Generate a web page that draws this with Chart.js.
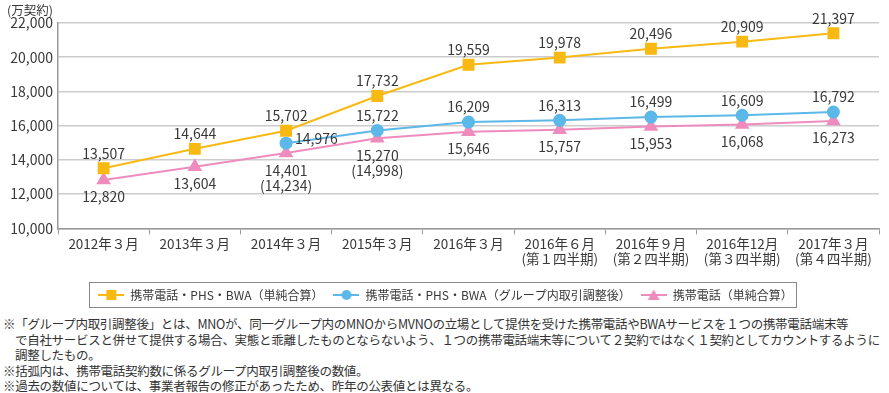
<!DOCTYPE html>
<html lang="ja">
<head>
<meta charset="utf-8">
<script src="https://cdn.jsdelivr.net/npm/chart.js@4.4.1/dist/chart.umd.min.js"></script>
<style>
  body { margin: 0; background: #fff; font-family: "Noto Sans CJK JP", "Noto Sans", sans-serif; color: #333; }
  #wrap { position: relative; width: 889px; height: 312px; }
  #notes { margin: 4px 0 0 3px; font-size: 12.5px; line-height: 15.5px; letter-spacing: -0.3px; }
  #notes p { margin: 0; white-space: nowrap; }
  #notes .indent { padding-left: 12px; }
</style>
</head>
<body>
<div id="wrap"><canvas id="chart"></canvas></div>
<div id="notes">
  <p>※「グループ内取引調整後」とは、MNOが、同一グループ内のMNOからMVNOの立場として提供を受けた携帯電話やBWAサービスを１つの携帯電話端末等</p>
  <p class="indent">で自社サービスと併せて提供する場合、実態と乖離したものとならないよう、１つの携帯電話端末等について２契約ではなく１契約としてカウントするように</p>
  <p class="indent">調整したもの。</p>
  <p>※括弧内は、携帯電話契約数に係るグループ内取引調整後の数値。</p>
  <p>※過去の数値については、事業者報告の修正があったため、昨年の公表値とは異なる。</p>
</div>
<script>
// ---------- Data ----------
const categories = [
  "2012年３月", "2013年３月", "2014年３月", "2015年３月", "2016年３月",
  ["2016年６月", "(第１四半期)"], ["2016年９月", "(第２四半期)"],
  ["2016年12月", "(第３四半期)"], ["2017年３月", "(第４四半期)"],
];
const totalSimple   = [13507, 14644, 15702, 17732, 19559, 19978, 20496, 20909, 21397];
const totalAdjusted = [null, null, 14976, 15722, 16209, 16313, 16499, 16609, 16792];
const mobileSimple  = [12820, 13604, 14401, 15270, 15646, 15757, 15953, 16068, 16273];
// values shown in brackets under the mobile series
const mobileAdjusted = [null, null, 14234, 14998, null, null, null, null, null];

const seriesNames = [
  "携帯電話・PHS・BWA（単純合算）",
  "携帯電話・PHS・BWA（グループ内取引調整後）",
  "携帯電話（単純合算）",
];
const yTicks = { min: 10000, max: 22000, step: 2000 };

const ORANGE = "#F8B913";
const BLUE   = "#5CB8E8";
const PINK   = "#EF8CBE";
const TEXT   = "#383838";
const FONT   = '"Noto Sans CJK JP", "Noto Sans", sans-serif';

const fmt = (v) => Number(v).toLocaleString("en-US");

// ---------- Legend icons: short line with marker ----------
function legendIcon(color, style) {
  const c = document.createElement("canvas");
  c.width = 26; c.height = 12;
  const g = c.getContext("2d");
  g.strokeStyle = color; g.fillStyle = color; g.lineWidth = 2;
  g.beginPath(); g.moveTo(0, 6); g.lineTo(26, 6); g.stroke();
  g.beginPath();
  if (style === "rect") g.rect(8, 1, 10, 10);
  else if (style === "circle") g.arc(13, 6, 5, 0, Math.PI * 2);
  else { g.moveTo(13, 0.5); g.lineTo(19, 11); g.lineTo(7, 11); g.closePath(); }
  g.fill();
  return c;
}

// ---------- Value labels ----------
const valueLabels = {
  id: "valueLabels",
  afterDatasetsDraw(chart) {
    const ctx = chart.ctx;
    ctx.save();
    ctx.font = "14px " + FONT;
    ctx.fillStyle = TEXT;
    ctx.textBaseline = "middle";
    chart.data.datasets.forEach((ds, di) => {
      chart.getDatasetMeta(di).data.forEach((pt, i) => {
        const v = ds.data[i];
        if (v == null) return;
        ctx.textAlign = "center";
        if (di === 0) {
          ctx.fillText(fmt(v), pt.x, pt.y - 15);
        } else if (di === 1) {
          if (i === 2) { ctx.textAlign = "left"; ctx.fillText(fmt(v), pt.x + 9, pt.y - 4); }
          else ctx.fillText(fmt(v), pt.x, pt.y - 15);
        } else {
          const adj = mobileAdjusted[i];
          if (adj != null) {
            ctx.fillText(fmt(v), pt.x, pt.y + 18);
            ctx.fillText("(" + fmt(adj) + ")", pt.x, pt.y + 33);
          } else {
            ctx.fillText(fmt(v), pt.x, pt.y + 17);
          }
        }
      });
    });
    ctx.restore();
  },
};

// ---------- Unit label + legend frame ----------
const decorations = {
  id: "decorations",
  afterLayout(chart) {
    // nudge the legend a little to the right, as in the source figure
    chart.legend.left += 6;
    chart.legend.right += 6;
  },
  afterDraw(chart) {
    const ctx = chart.ctx;
    ctx.save();
    ctx.font = "12.5px " + FONT;
    ctx.fillStyle = TEXT;
    ctx.textBaseline = "middle";
    ctx.fillText("(万契約)", 7, 10);
    const hb = chart.legend.legendHitBoxes;
    if (hb && hb.length) {
      const l = Math.min(...hb.map((b) => b.left)) - 9;
      const r = Math.max(...hb.map((b) => b.left + b.width)) + 4;
      const t = hb[0].top - 7;
      const h = hb[0].height + 13;
      ctx.strokeStyle = "#888";
      ctx.lineWidth = 1;
      ctx.strokeRect(Math.round(l) + 0.5, Math.round(t) + 0.5, Math.round(r - l), Math.round(h));
    }
    ctx.restore();
  },
};

const icons = [legendIcon(ORANGE, "rect"), legendIcon(BLUE, "circle"), legendIcon(PINK, "triangle")];

new Chart(document.getElementById("chart"), {
  type: "line",
  data: {
    labels: categories,
    datasets: [
      {
        label: seriesNames[0], data: totalSimple,
        borderColor: ORANGE, backgroundColor: ORANGE, borderWidth: 2,
        pointStyle: "rect", pointRadius: 7, pointHoverRadius: 7,
      },
      {
        label: seriesNames[1], data: totalAdjusted,
        borderColor: BLUE, backgroundColor: BLUE, borderWidth: 2,
        pointStyle: "circle", pointRadius: 5.5, pointHoverRadius: 5.5,
      },
      {
        label: seriesNames[2], data: mobileSimple,
        borderColor: PINK, backgroundColor: PINK, borderWidth: 2,
        pointStyle: "triangle", pointRadius: 6.5, pointHoverRadius: 6.5,
      },
    ],
  },
  options: {
    responsive: true,
    maintainAspectRatio: false,
    animation: false,
    layout: { padding: { top: 23, right: 10, left: 0, bottom: 1 } },
    plugins: {
      legend: {
        position: "bottom",
        labels: {
          usePointStyle: true,
          pointStyleWidth: 26,
          padding: 10,
          color: TEXT,
          font: { family: FONT, size: 12 },
          generateLabels: (chart) =>
            chart.data.datasets.map((ds, i) => ({
              text: ds.label, pointStyle: icons[i], fillStyle: ds.borderColor,
              strokeStyle: ds.borderColor, lineWidth: 0, datasetIndex: i, hidden: false,
              fontColor: TEXT,
            })),
        },
      },
      tooltip: { enabled: false },
    },
    scales: {
      x: {
        offset: true,
        afterFit: (scale) => { scale.height += 11; },
        grid: { offset: true, drawOnChartArea: false, drawTicks: true, tickLength: 6, color: "#999" },
        border: { color: "#999", width: 1.5 },
        ticks: { color: TEXT, font: { family: FONT, size: 13.5, lineHeight: 1.1 }, padding: 2, maxRotation: 0, autoSkip: false },
      },
      y: {
        min: yTicks.min, max: yTicks.max,
        afterFit: (scale) => { scale.width = 58; },
        grid: { color: "#ccc", lineWidth: 1.5, drawTicks: false },
        border: { color: "#999", width: 1.5 },
        ticks: { stepSize: yTicks.step, color: TEXT, padding: 5, font: { family: FONT, size: 14 }, callback: (v) => fmt(v) },
      },
    },
  },
  plugins: [valueLabels, decorations],
});
</script>
</body>
</html>
